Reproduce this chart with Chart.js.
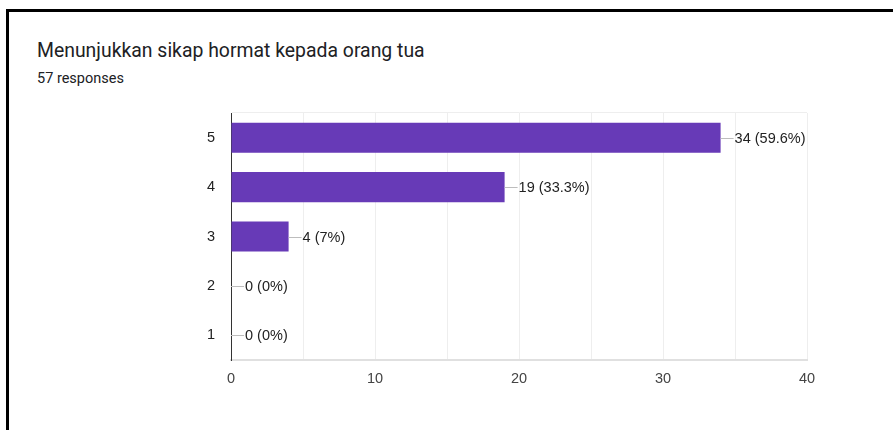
<!DOCTYPE html>
<html>
<head>
<meta charset="utf-8">
<script src="https://cdn.jsdelivr.net/npm/chart.js@4"></script>
<style>
    html, body { margin: 0; padding: 0; background: #fff; }
    body { width: 893px; height: 430px; position: relative; overflow: hidden; }
    .frame {
        position: absolute; left: 6px; top: 9px; width: 900px; height: 440px;
        border-top: 3px solid #000; border-left: 3px solid #000;
        box-sizing: border-box;
    }
    .title {
        position: absolute; left: 37px; top: 39px;
        font-family: Roboto, sans-serif; font-size: 19.4px; color: #202124;
    }
    .sub {
        position: absolute; left: 37px; top: 70px;
        font-family: Roboto, sans-serif; font-size: 14.5px; color: #202124;
    }
    #chart1 { position: absolute; left: 0; top: 0; }
</style>
</head>
<body>
<div class="frame"></div>
<div class="title">Menunjukkan sikap hormat kepada orang tua</div>
<div class="sub">57 responses</div>
<canvas id="chart1" width="893" height="430"></canvas>
<script>
// Data
const categories = ['5', '4', '3', '2', '1'];
const counts = [34, 19, 4, 0, 0];
const totalResponses = 57;
const xTicks = [0, 10, 20, 30, 40];

document.addEventListener('DOMContentLoaded', function() {
    const chartFont = '"Liberation Sans", Arial, sans-serif';

    // Value labels with the small grey leader line
    const valueLabels = {
        id: 'valueLabels',
        afterDatasetsDraw(chart) {
            const c = chart.ctx;
            const meta = chart.getDatasetMeta(0);
            c.save();
            c.font = '14.5px ' + chartFont;
            c.textBaseline = 'middle';
            meta.data.forEach(function(bar, i) {
                const pct = parseFloat((counts[i] / totalResponses * 100).toFixed(1));
                const text = counts[i] + ' (' + pct + '%)';
                c.strokeStyle = '#bdbdbd';
                c.lineWidth = 1;
                c.beginPath();
                c.moveTo(bar.x, Math.round(bar.y) + 0.5);
                c.lineTo(bar.x + 13, Math.round(bar.y) + 0.5);
                c.stroke();
                c.fillStyle = '#222';
                c.fillText(text, bar.x + 14, bar.y + 1);
            });
            c.restore();
        }
    };

    const ctx = document.getElementById('chart1').getContext('2d');
    new Chart(ctx, {
        type: 'bar',
        data: {
            labels: categories,
            datasets: [{
                data: counts,
                backgroundColor: '#673ab7',
                borderColor: '#673ab7',
                borderWidth: 0,
                categoryPercentage: 1,
                barPercentage: 0.61
            }]
        },
        options: {
            indexAxis: 'y',
            responsive: false,
            animation: false,
            devicePixelRatio: 1,
            layout: { padding: { left: 180, right: 86, top: 113, bottom: 40 } },
            plugins: {
                legend: { display: false },
                tooltip: { enabled: false }
            },
            scales: {
                x: {
                    min: 0,
                    max: 40,
                    afterFit: function(scale) { scale.height = 30; },
                    afterBuildTicks: function(scale) {
                        scale.ticks = [0, 5, 10, 15, 20, 25, 30, 35, 40].map(v => ({ value: v }));
                    },
                    grid: {
                        color: '#eeeeee',
                        lineWidth: 1,
                        drawTicks: false
                    },
                    border: { display: true, color: '#e0e0e0', width: 2 },
                    ticks: {
                        padding: 10,
                        color: '#444',
                        font: { family: chartFont, size: 14.5 },
                        callback: function(v) { return xTicks.includes(v) ? String(v) : ''; }
                    }
                },
                y: {
                    afterFit: function(scale) { scale.width = 51; },
                    grid: {
                        offset: true,
                        drawTicks: false,
                        color: function(c) {
                            return c.index === 0 ? '#eeeeee' : 'rgba(0,0,0,0)';
                        }
                    },
                    border: { display: true, color: '#333333', width: 1 },
                    ticks: {
                        padding: 16,
                        color: '#222',
                        font: { family: chartFont, size: 14.5 }
                    }
                }
            }
        },
        plugins: [valueLabels]
    });
});
</script>
</body>
</html>
